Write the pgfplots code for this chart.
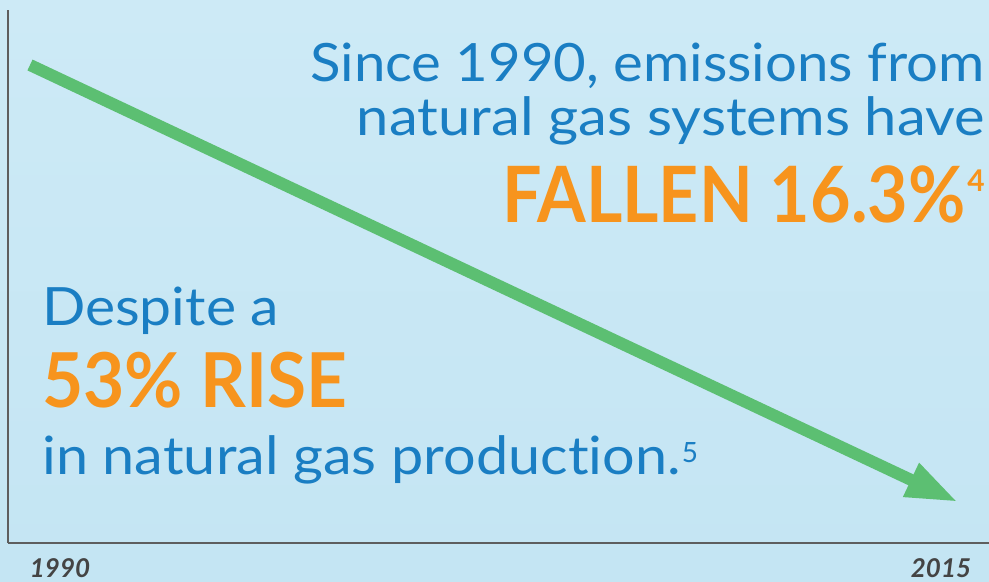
\documentclass[border=0pt]{standalone}
\usepackage{pgfplots}
\pgfplotsset{compat=1.18}
\usepackage{fontspec}
\setmainfont{Lato}[Ligatures=NoCommon]
\usetikzlibrary{arrows.meta}
\definecolor{bgtop}{HTML}{CDEAF6}
\definecolor{bgbot}{HTML}{C4E5F3}
\definecolor{txtblue}{HTML}{1A7EC3}
\definecolor{txtorange}{HTML}{F7941D}
\definecolor{arrgreen}{HTML}{5CBF72}
\definecolor{axgray}{HTML}{5E5E5E}
\definecolor{lblgray}{HTML}{444444}
\begin{document}
\begin{tikzpicture}
\path[use as bounding box, top color=bgtop, bottom color=bgbot] (0,0) rectangle (989bp,582bp);
\begin{axis}[
  at={(8bp,39bp)}, anchor=south west,
  scale only axis, width=981bp, height=533bp,
  xmin=8, xmax=989, ymin=0, ymax=533,
  axis lines*=left,
  axis line style={draw=axgray, line width=2bp},
  ytick=\empty,
  xtick={60,941}, xticklabels={1990,2015},
  major tick length=0pt,
  xticklabel style={font=\fontsize{26}{30}\selectfont\bfseries\itshape, text=lblgray, yshift=-12bp},
  clip=false,
]
\addplot[draw=arrgreen, line width=12bp, -{Triangle[length=52bp,width=34bp]}] coordinates {(30,478) (958,41)};

\node[anchor=base east, inner sep=0pt, text=txtblue, font=\fontsize{53}{60}\selectfont] at (axis cs:985,461) {\scalebox{1.066}[1]{Since 1990, emissions from}};
\node[anchor=base east, inner sep=0pt, text=txtblue, font=\fontsize{53}{60}\selectfont] at (axis cs:985,407) {\scalebox{1.096}[1]{natural gas systems have}};
\node[anchor=base east, inner sep=0pt, text=txtorange, font=\fontsize{78}{80}\selectfont\bfseries] at (axis cs:985,320) {\scalebox{0.9}[1]{FALLEN 16.3\%}\hspace{2bp}\raisebox{31bp}{\fontsize{30}{30}\selectfont 4}};

\node[anchor=base west, inner sep=0pt, text=txtblue, font=\fontsize{53}{60}\selectfont] at (axis cs:42,217) {\scalebox{1.08}[1]{Despite a}};
\node[anchor=base west, inner sep=0pt, text=txtorange, font=\fontsize{76}{80}\selectfont\bfseries] at (axis cs:42,135) {\scalebox{0.94}[1]{53\% RISE}};
\node[anchor=base west, inner sep=0pt, text=txtblue, font=\fontsize{53}{60}\selectfont] at (axis cs:42,68) {\scalebox{1.09}[1]{in natural gas production.}\hspace{1bp}\raisebox{12bp}{\fontsize{28}{28}\selectfont 5}};
\end{axis}
\end{tikzpicture}
\end{document}
